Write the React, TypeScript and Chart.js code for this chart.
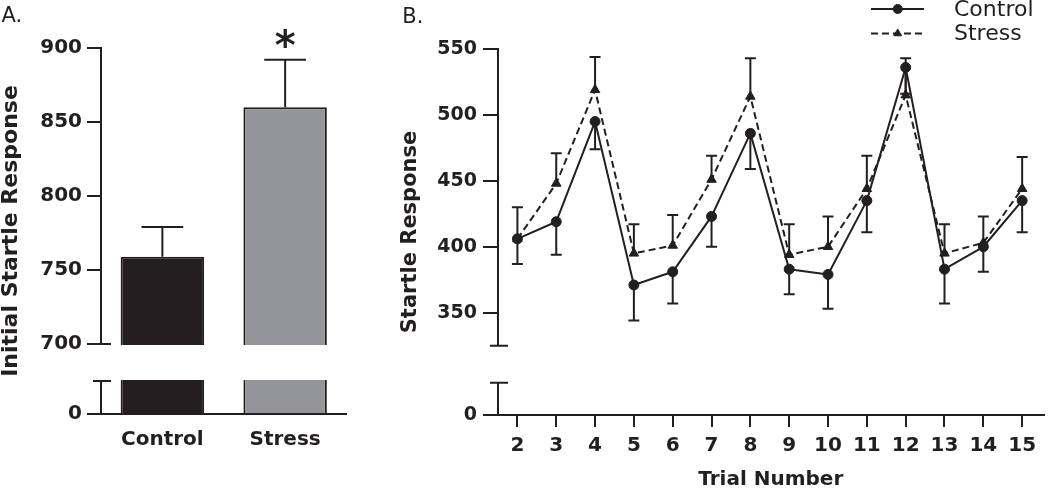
import React, { useEffect, useRef } from "react";
import { Chart, registerables } from "chart.js";
import { drawPoint } from "chart.js/helpers";

Chart.register(...registerables);

// ---------- Panel A data ----------
const barGroups = ["Control", "Stress"];
const barMeans = [759, 860];
const barSEM = [20, 32];
const barTickValues = [0, 700, 750, 800, 850, 900];

// ---------- Panel B data ----------
const trials = [2, 3, 4, 5, 6, 7, 8, 9, 10, 11, 12, 13, 14, 15];
const controlMeans = [406, 419, 495, 371, 381, 423, 486, 383, 379, 435, 536, 383, 400, 435];
const controlSEM = [19, 25, 21, 27, 24, 23, 27, 19, 26, 24, 20, 26, 19, 24];
const stressMeans = [406, 448, 519, 395, 401, 451, 514, 394, 400, 444, 515, 395, 403, 444];
const stressSEM = [24, 23, 25, 22, 23, 18, 29, 23, 23, 25, 28, 22, 20, 24];
const lineTickValues = [0, 350, 400, 450, 500, 550];

const INK = "#231f20";
const GRAY = "#939598";
const FONT = "DejaVu Sans";

Chart.defaults.font.family = FONT;
Chart.defaults.color = INK;

// broken axis: lower segment holds 0, upper segment starts at upperMin
function makeBreak(upperMin: number, lowerSpan: number, gapSpan: number) {
  const upperStart = lowerSpan + gapSpan;
  return {
    lowerSpan,
    upperStart,
    toDisplay: (v: number) => (v <= 0 ? 0 : v < upperMin ? lowerSpan : v - upperMin + upperStart),
  };
}
const breakA = makeBreak(700, 22.3, 25);
const breakB = makeBreak(325, 24.5, 28.1);

function brokenAxisPlugin(brk: any, whiteGap: boolean) {
  return {
    id: "brokenAxis",
    afterDatasetsDraw(chart: any) {
      const { ctx, chartArea, scales } = chart;
      const y = scales.y;
      const x0 = chartArea.left;
      const yLowTop = y.getPixelForValue(brk.lowerSpan);
      const yUpBottom = y.getPixelForValue(brk.upperStart);
      ctx.save();
      if (whiteGap) {
        ctx.fillStyle = "#ffffff";
        ctx.fillRect(x0 + 1, yUpBottom + 1, chartArea.right - x0, yLowTop - yUpBottom - 2);
      }
      ctx.strokeStyle = INK;
      ctx.lineWidth = 2;
      ctx.beginPath();
      ctx.moveTo(x0, chartArea.bottom + 1);
      ctx.lineTo(x0, yLowTop);
      ctx.moveTo(x0 - 8, yLowTop);
      ctx.lineTo(x0 + 10, yLowTop);
      ctx.moveTo(x0, yUpBottom);
      ctx.lineTo(x0, chartArea.top - 1);
      ctx.moveTo(x0 - 8, yUpBottom);
      ctx.lineTo(x0 + 10, yUpBottom);
      ctx.stroke();
      ctx.restore();
    },
  };
}

function panelLabel(text: string, x: number, y: number) {
  return {
    id: "panelLabel",
    afterDraw(chart: any) {
      const ctx = chart.ctx;
      ctx.save();
      ctx.fillStyle = INK;
      ctx.font = `21px ${FONT}`;
      ctx.textAlign = "left";
      ctx.textBaseline = "middle";
      ctx.fillText(text, x, y);
      ctx.restore();
    },
  };
}

const barErrorPlugin = {
  id: "barErrors",
  afterDatasetsDraw(chart: any) {
    const { ctx } = chart;
    const y = chart.scales.y;
    const meta = chart.getDatasetMeta(0);
    ctx.save();
    ctx.strokeStyle = INK;
    ctx.lineWidth = 2;
    meta.data.forEach((bar: any, i: number) => {
      const top = y.getPixelForValue(breakA.toDisplay(barMeans[i] + barSEM[i]));
      const half = bar.width / 4;
      ctx.beginPath();
      ctx.moveTo(bar.x, bar.y);
      ctx.lineTo(bar.x, top);
      ctx.moveTo(bar.x - half, top);
      ctx.lineTo(bar.x + half, top);
      ctx.stroke();
    });
    // significance marker above Stress
    const s = meta.data[1];
    ctx.fillStyle = INK;
    ctx.font = `bold 40px ${FONT}`;
    ctx.textAlign = "center";
    ctx.textBaseline = "alphabetic";
    ctx.fillText("*", s.x, 59);
    ctx.restore();
  },
};

const lineErrorPlugin = {
  id: "lineErrors",
  beforeDatasetsDraw(chart: any) {
    const { ctx } = chart;
    const y = chart.scales.y;
    const groups = [
      { meta: chart.getDatasetMeta(0), means: controlMeans, sem: controlSEM, dir: -1 },
      { meta: chart.getDatasetMeta(1), means: stressMeans, sem: stressSEM, dir: 1 },
    ];
    ctx.save();
    ctx.strokeStyle = INK;
    ctx.lineWidth = 2;
    groups.forEach((g) => {
      g.meta.data.forEach((pt: any, i: number) => {
        const end = y.getPixelForValue(breakB.toDisplay(g.means[i] + g.dir * g.sem[i]));
        ctx.beginPath();
        ctx.moveTo(pt.x, pt.y);
        ctx.lineTo(pt.x, end);
        ctx.moveTo(pt.x - 5.5, end);
        ctx.lineTo(pt.x + 5.5, end);
        ctx.stroke();
      });
    });
    ctx.restore();
  },
};

const lineLegendPlugin = {
  id: "lineLegend",
  afterDraw(chart: any) {
    const { ctx } = chart;
    const rows = [
      { y: 9, ty: 10 },
      { y: 33.5, ty: 34.5 },
    ];
    ctx.save();
    chart.data.datasets.forEach((ds: any, i: number) => {
      const r = rows[i];
      ctx.strokeStyle = INK;
      ctx.fillStyle = INK;
      ctx.lineWidth = 2;
      ctx.setLineDash(ds.borderDash || []);
      ctx.beginPath();
      ctx.moveTo(471, r.y);
      ctx.lineTo(524, r.y);
      ctx.stroke();
      ctx.setLineDash([]);
      ctx.lineWidth = 1;
      drawPoint(ctx, { pointStyle: ds.pointStyle, radius: 4.5, rotation: 0, borderWidth: 1 } as any, 497.7, r.y);
      ctx.font = `22px ${FONT}`;
      ctx.textAlign = "left";
      ctx.textBaseline = "middle";
      ctx.fillText(ds.label, 554, r.ty);
    });
    ctx.restore();
  },
};

export default function App() {
  const refA = useRef<HTMLCanvasElement>(null);
  const refB = useRef<HTMLCanvasElement>(null);

  useEffect(() => {
    const chartA = new Chart(refA.current as HTMLCanvasElement, {
      type: "bar",
      data: {
        labels: barGroups,
        datasets: [
          {
            label: "Initial Startle Response",
            data: barMeans.map(breakA.toDisplay),
            backgroundColor: [INK, GRAY],
            borderColor: INK,
            borderWidth: 2,
            borderSkipped: "start",
            categoryPercentage: 1,
            barPercentage: 0.68,
          },
        ],
      },
      options: {
        responsive: false,
        animation: false,
        layout: { padding: { top: 48, right: 53.5, left: 0, bottom: 0 } },
        plugins: { legend: { display: false }, tooltip: { enabled: false } },
        scales: {
          x: {
            type: "category",
            offset: true,
            grid: { display: false, drawTicks: false },
            border: { display: true, color: INK, width: 2 },
            ticks: { color: INK, font: { family: FONT, weight: "bold", size: 20 }, padding: 14 },
            afterFit: (s: any) => {
              s.height = 76;
            },
          },
          y: {
            type: "linear",
            min: 0,
            max: breakA.toDisplay(900),
            afterBuildTicks: (s: any) => {
              s.ticks = barTickValues.map((v) => ({ value: breakA.toDisplay(v) }));
            },
            ticks: {
              callback: (_v: any, i: number) => String(barTickValues[i]),
              color: INK,
              font: { family: FONT, weight: "bold", size: 20 },
              padding: 5,
            },
            grid: { drawOnChartArea: false, drawTicks: true, tickLength: 14, color: INK, tickColor: INK, lineWidth: 2 },
            border: { display: false },
            title: {
              display: true,
              text: "Initial Startle Response",
              color: INK,
              font: { family: FONT, weight: "bold", size: 22, lineHeight: 1 },
              padding: 0,
            },
            afterFit: (s: any) => {
              s.width = 101;
            },
          },
        },
      } as any,
      plugins: [brokenAxisPlugin(breakA, true), barErrorPlugin, panelLabel("A.", 1.5, 16.5)],
    });

    const chartB = new Chart(refB.current as HTMLCanvasElement, {
      type: "line",
      data: {
        datasets: [
          {
            label: "Control",
            data: trials.map((t, i) => ({ x: t, y: breakB.toDisplay(controlMeans[i]) })),
            borderColor: INK,
            backgroundColor: INK,
            borderWidth: 2,
            borderJoinStyle: "round",
            pointStyle: "circle",
            pointRadius: 5,
            pointBackgroundColor: INK,
            pointBorderColor: INK,
            pointBorderWidth: 1,
            tension: 0,
          },
          {
            label: "Stress",
            data: trials.map((t, i) => ({ x: t, y: breakB.toDisplay(stressMeans[i]) })),
            borderColor: INK,
            backgroundColor: INK,
            borderWidth: 2,
            borderDash: [7, 4],
            borderJoinStyle: "round",
            pointStyle: "triangle",
            pointRadius: 5.5,
            pointBackgroundColor: INK,
            pointBorderColor: INK,
            pointBorderWidth: 1,
            tension: 0,
          },
        ],
      },
      options: {
        responsive: false,
        animation: false,
        layout: { padding: { top: 49, right: 0, left: 0, bottom: 0 } },
        plugins: { legend: { display: false }, tooltip: { enabled: false } },
        scales: {
          x: {
            type: "linear",
            min: 1.5,
            max: 15.55,
            afterBuildTicks: (s: any) => {
              s.ticks = trials.map((v) => ({ value: v }));
            },
            ticks: {
              callback: (v: any) => String(v),
              color: INK,
              autoSkip: false,
              maxRotation: 0,
              font: { family: FONT, weight: "bold", size: 20 },
              padding: 7,
            },
            grid: { drawOnChartArea: false, drawTicks: true, tickLength: 12, color: INK, tickColor: INK, lineWidth: 2 },
            border: { display: true, color: INK, width: 2 },
            title: {
              display: true,
              text: "Trial Number",
              color: INK,
              font: { family: FONT, weight: "bold", size: 20, lineHeight: 1 },
              padding: 0,
            },
            afterFit: (s: any) => {
              s.height = 75;
            },
          },
          y: {
            type: "linear",
            min: 0,
            max: breakB.toDisplay(550),
            afterBuildTicks: (s: any) => {
              s.ticks = lineTickValues.map((v) => ({ value: breakB.toDisplay(v) }));
            },
            ticks: {
              callback: (_v: any, i: number) => String(lineTickValues[i]),
              color: INK,
              font: { family: FONT, weight: "bold", size: 19 },
              padding: 6,
            },
            grid: { drawOnChartArea: false, drawTicks: true, tickLength: 15, color: INK, tickColor: INK, lineWidth: 2 },
            border: { display: false },
            title: {
              display: true,
              text: "Startle Response",
              color: INK,
              font: { family: FONT, weight: "bold", size: 21, lineHeight: 1 },
              padding: 0,
            },
            afterFit: (s: any) => {
              s.width = 98;
            },
          },
        },
      } as any,
      plugins: [lineErrorPlugin, brokenAxisPlugin(breakB, false), lineLegendPlugin, panelLabel("B.", 2.3, 18)],
    });

    return () => {
      chartA.destroy();
      chartB.destroy();
    };
  }, []);

  return (
    <div
      style={{
        position: "fixed",
        left: 0,
        top: 0,
        width: 1050,
        height: 490,
        background: "#ffffff",
        overflow: "hidden",
      }}
    >
      <canvas ref={refA} width={400} height={490} style={{ position: "absolute", left: 0, top: 0 }} />
      <canvas ref={refB} width={650} height={490} style={{ position: "absolute", left: 400, top: 0 }} />
    </div>
  );
}
